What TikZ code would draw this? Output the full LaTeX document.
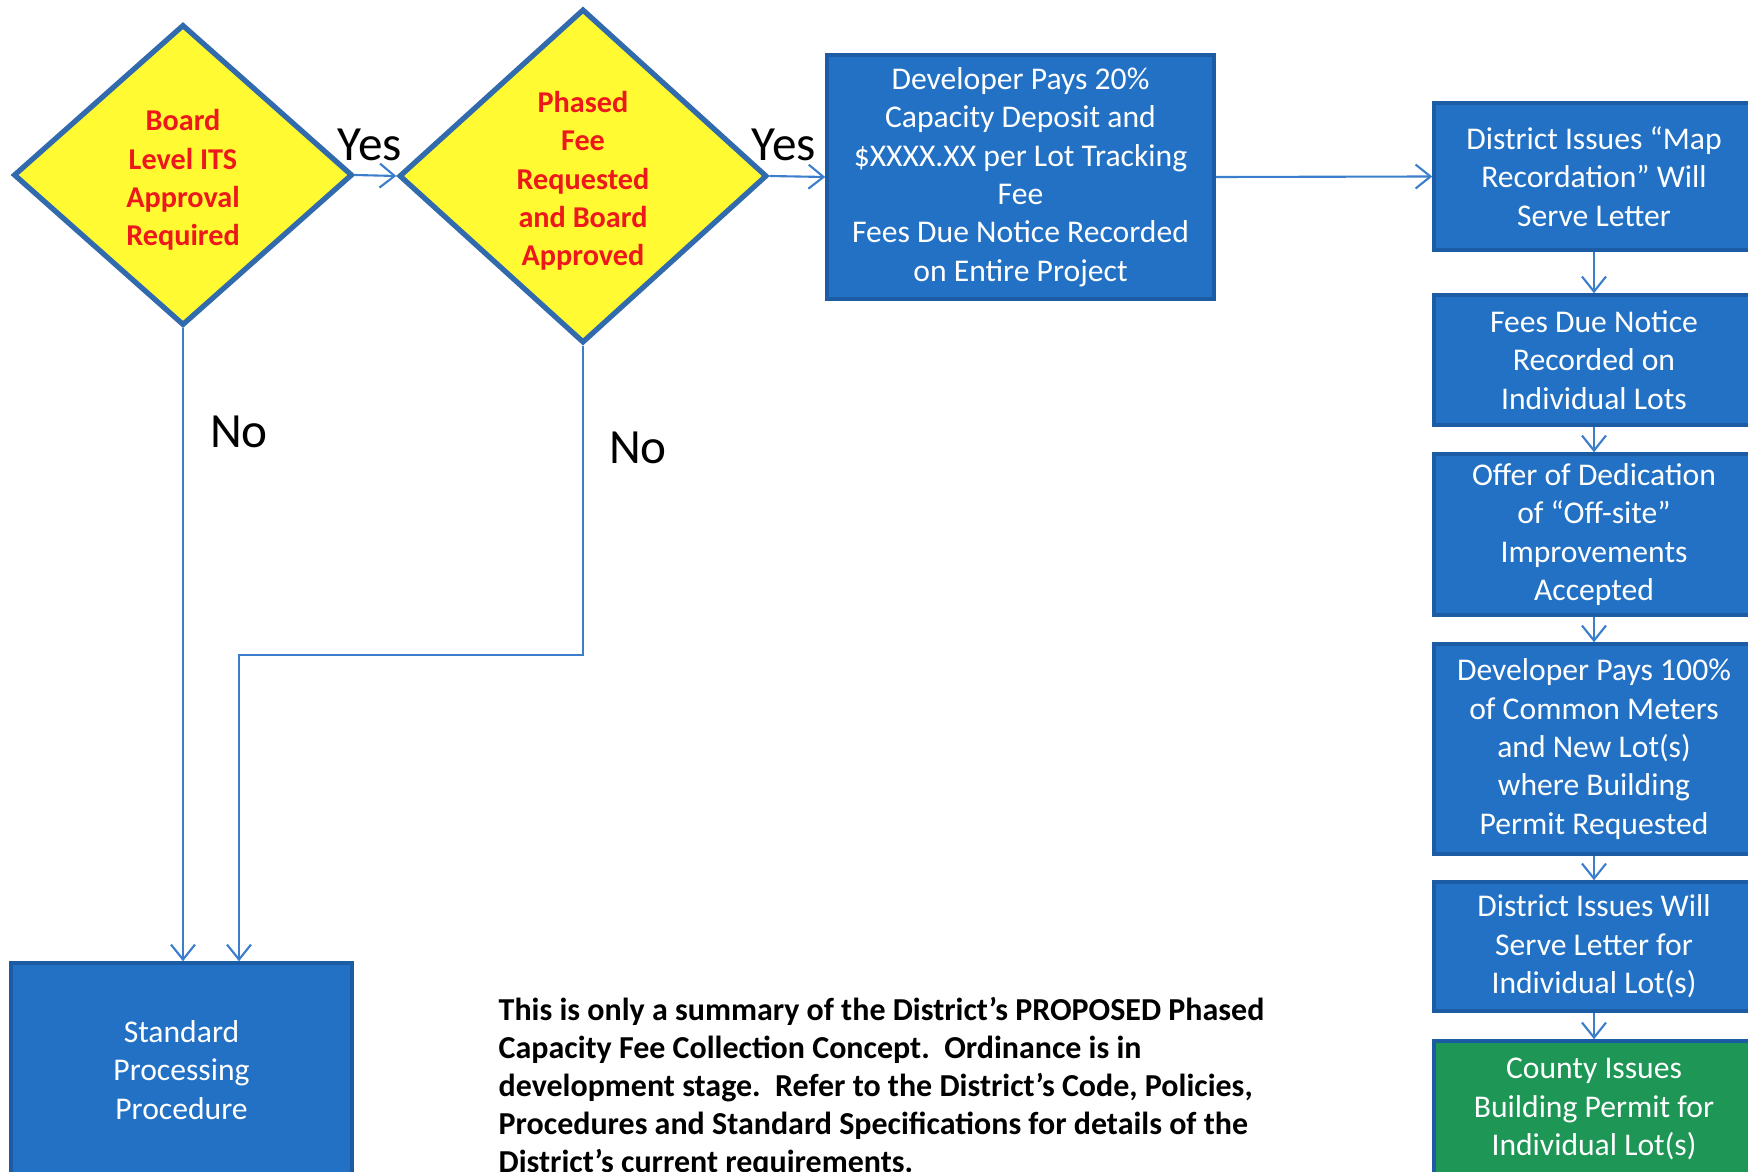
\documentclass[tikz,border=0pt]{standalone}
\usepackage{fontspec}
\setmainfont{Carlito}
\usetikzlibrary{shapes.geometric,arrows.meta}
\definecolor{boxblue}{RGB}{34,113,196}
\definecolor{edgeblue}{RGB}{28,92,165}
\definecolor{lineblue}{RGB}{58,126,204}
\definecolor{diayellow}{RGB}{255,250,50}
\definecolor{boxgreen}{RGB}{30,150,85}
\definecolor{txtred}{RGB}{236,24,28}
\tikzset{
    decision/.style={diamond, draw=lineblue!85!black, line width=1.5pt, fill=diayellow, inner sep=0pt},
    dtext/.style={text=txtred, font=\fontsize{8.6}{10.9}\selectfont\bfseries, align=center, yshift=-0.05cm},
    stage/.style={rectangle, draw=edgeblue, line width=1pt, fill=boxblue, text=white,
        font=\fontsize{9}{10.9}\selectfont, align=center, inner sep=0pt},
    flow/.style={draw=lineblue, line width=0.6pt, -{Straight Barb[length=1.5mm,width=2.4mm]}},
    answer/.style={font=\fontsize{14}{16}\selectfont}
}
\begin{document}
\begin{tikzpicture}
            \clip (0,0) rectangle (17.48,11.71);
            % Décisions
            \node[decision, minimum width=3.39cm, minimum height=3.01cm,
                label={[dtext]center:{Board\\Level ITS\\Approval\\Required}}] (itsq) at (1.83,9.96) {};
            \node[decision, minimum width=3.68cm, minimum height=3.34cm,
                label={[dtext]center:{Phased\\Fee\\Requested\\and Board\\Approved}}] (phaseq) at (5.83,9.95) {};
            % Étapes
            \node[stage, minimum width=3.87cm, minimum height=2.44cm] (deposit) at (10.205,9.94)
                {Developer Pays 20\%\\Capacity Deposit and\\\$XXXX.XX per Lot Tracking\\Fee\\Fees Due Notice Recorded\\on Entire Project};
            \node[stage, minimum width=3.2cm, minimum height=1.47cm] (mapletter) at (15.94,9.945)
                {District Issues “Map\\Recordation” Will\\Serve Letter};
            \node[stage, minimum width=3.2cm, minimum height=1.30cm] (lotnotice) at (15.94,8.11)
                {Fees Due Notice\\Recorded on\\Individual Lots};
            \node[stage, minimum width=3.2cm, minimum height=1.61cm] (offsite) at (15.94,6.365)
                {Offer of Dedication\\of “Off-site”\\Improvements\\Accepted};
            \node[stage, minimum width=3.2cm, minimum height=2.10cm] (fullpay) at (15.94,4.22)
                {Developer Pays 100\%\\of Common Meters\\and New Lot(s)\\where Building\\Permit Requested};
            \node[stage, minimum width=3.2cm, minimum height=1.29cm] (lotletter) at (15.94,2.245)
                {District Issues Will\\Serve Letter for\\Individual Lot(s)};
            \node[stage, fill=boxgreen, minimum width=3.2cm, minimum height=1.36cm] (permit) at (15.94,0.62)
                {County Issues\\Building Permit for\\Individual Lot(s)};
            \node[stage, minimum width=3.41cm, minimum height=2.14cm] (standard) at (1.815,1.01)
                {Standard\\Processing\\Procedure};
            % Réponses
            \node[answer] (yesits) at (3.70,10.26) {Yes};
            \node[answer] (yesphase) at (7.84,10.26) {Yes};
            \node[answer] (noits) at (2.39,7.39) {No};
            \node[answer] (nophase) at (6.38,7.23) {No};
            \coordinate (bend) at (2.39,5.16);
            % Liaisons
            \draw[flow] (itsq.east) -- (phaseq.west);
            \draw[flow] (phaseq.east) -- (deposit.west);
            \draw[flow] (deposit.east) -- (mapletter.west);
            \draw[flow] (mapletter) -- (lotnotice);
            \draw[flow] (lotnotice) -- (offsite);
            \draw[flow] (offsite) -- (fullpay);
            \draw[flow] (fullpay) -- (lotletter);
            \draw[flow] (lotletter) -- (permit);
            \draw[flow] (itsq.south) -- (itsq.south |- standard.north);
            \draw[flow] (phaseq.south) |- (bend) -- (bend |- standard.north);
            % Remarque
            \node[anchor=north west, inner sep=0pt, align=left,
                font=\fontsize{9.1}{10.8}\selectfont\bfseries] (remark) at (4.98,1.74)
                {This is only a summary of the District’s PROPOSED Phased\\
                 Capacity Fee Collection Concept.\ \ Ordinance is in\\
                 development stage.\ \ Refer to the District’s Code, Policies,\\
                 Procedures and Standard Specifications for details of the\\
                 District’s current requirements.};
\end{tikzpicture}
\end{document}
